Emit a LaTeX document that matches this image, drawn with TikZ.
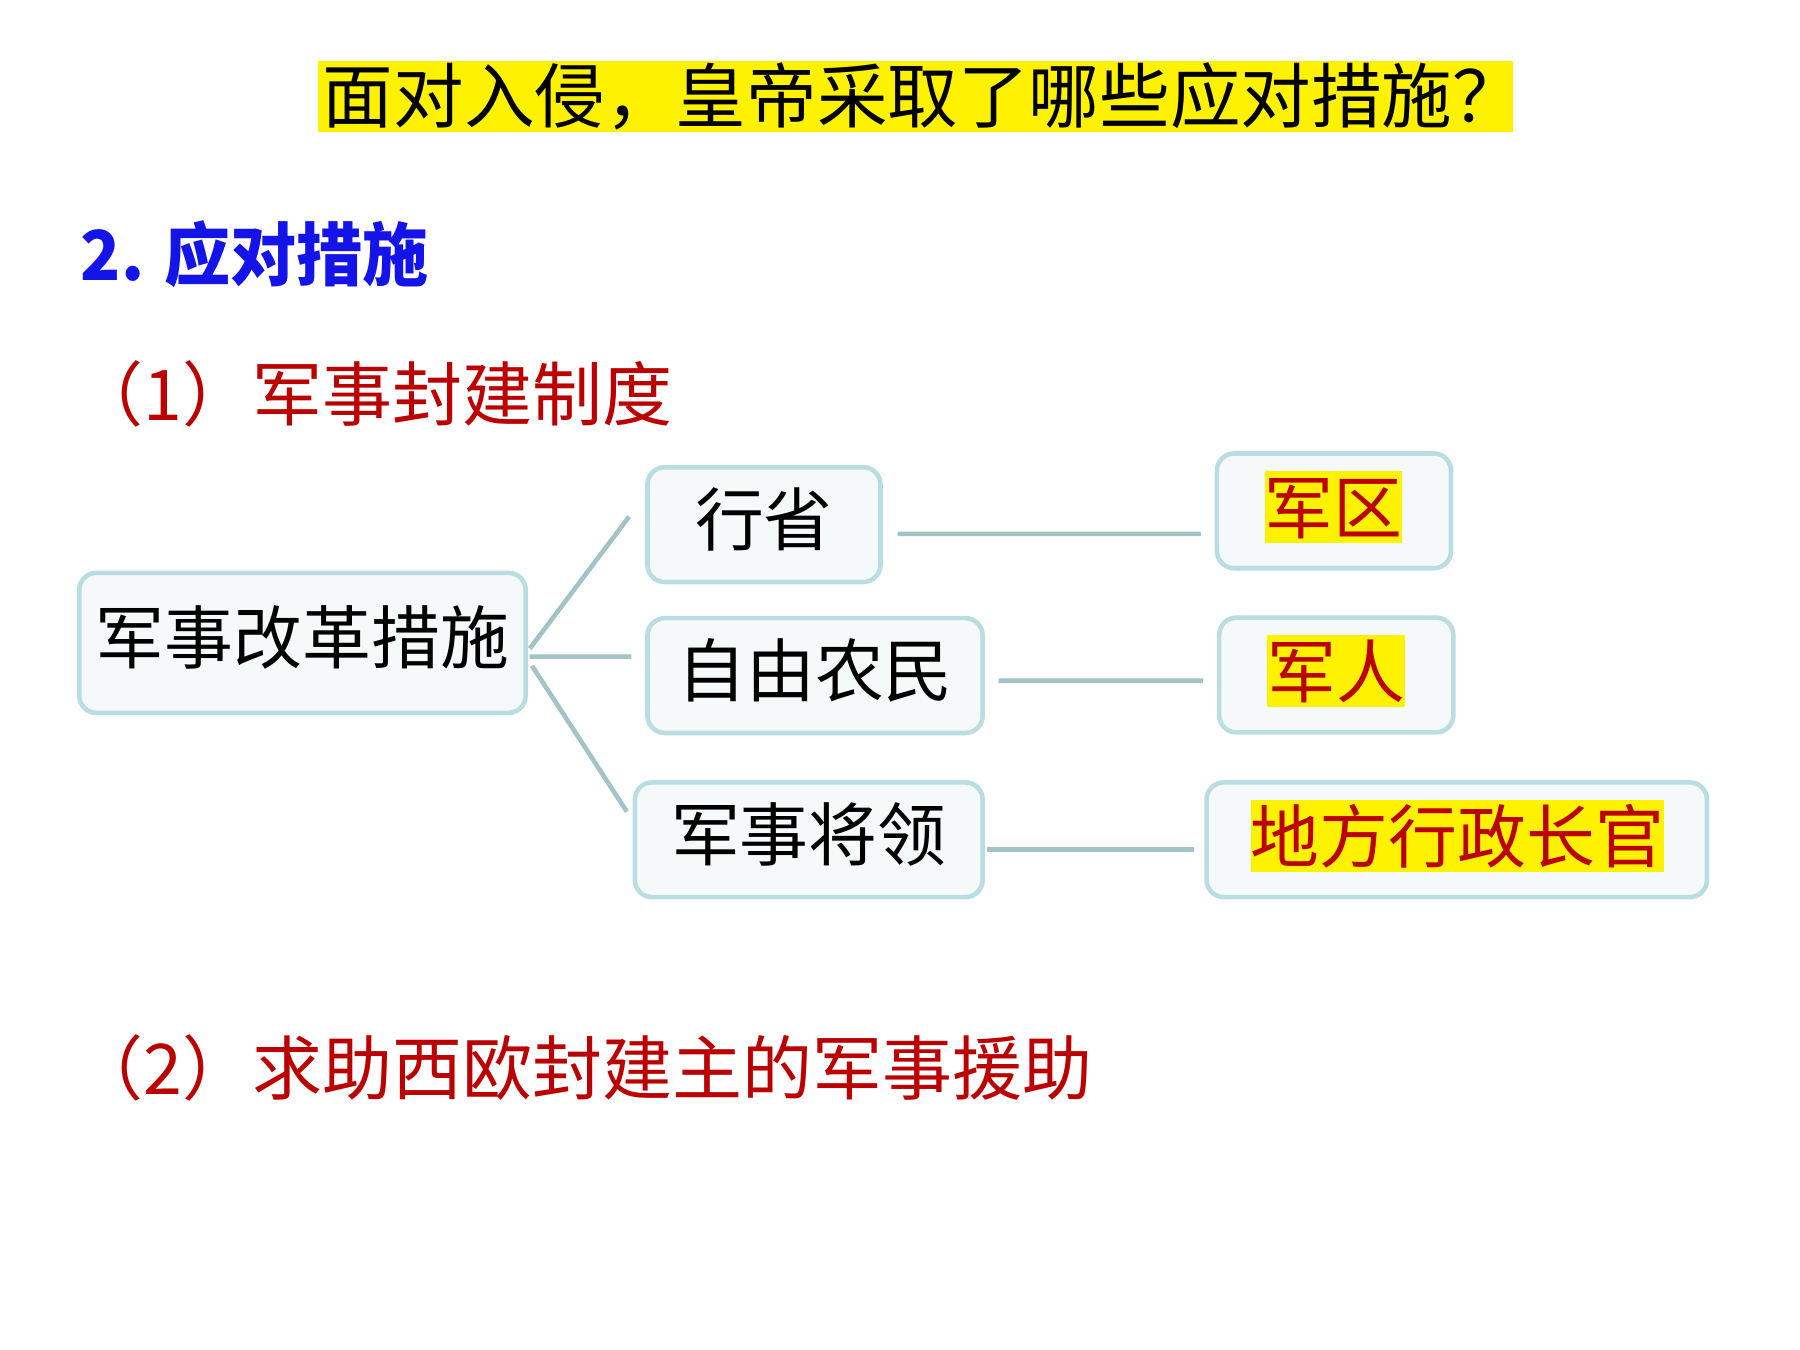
\documentclass[tikz,border=0pt]{standalone}
\usepackage{fontspec}
\newfontfamily\cjk{Noto Sans CJK SC}
\newfontfamily\cjkhead[FakeStretch=0.96]{Noto Sans CJK SC}
\definecolor{boxc}{RGB}{186,221,225}
\definecolor{boxf}{RGB}{245,249,250}
\definecolor{connc}{RGB}{163,196,199}
\definecolor{myred}{RGB}{186,0,0}
\definecolor{myblue}{RGB}{20,20,232}
\tikzset{
  txt/.style={inner sep=0pt, text height=1.09cm, text depth=0.17cm},
  bigfont/.style={font=\cjk\fontsize{34.14pt}{40pt}\selectfont},
  redfont/.style={font=\cjk\fontsize{34.7pt}{40pt}\selectfont, text=myred},
  box/.style={draw=boxc, line width=0.08cm, fill=boxf, rounded corners=0.3cm,
    inner sep=0pt, text height=0.99cm, text depth=0.27cm, bigfont, text=black},
  conn/.style={draw=connc, line width=0.08cm},
  hl/.style={txt, bigfont, fill=yellow, text=myred},
}
\begin{document}
\begin{tikzpicture}[x=0.02cm, y=-0.02cm]
\useasboundingbox (0,0) rectangle (1568,1176);
\fill[white] (0,0) rectangle (1568,1176);

% title
\node[fill=yellow, minimum width=20.82cm, minimum height=1.24cm, inner sep=0pt] (tbg) at (797.5,84) {};
\node[txt, anchor=west, font=\cjk\fontsize{35pt}{40pt}\selectfont] (title) at (281,84) {面对入侵，皇帝采取了哪些应对措施？};

% headings
\node[txt, anchor=west, font=\cjkhead\bfseries\fontsize{34.14pt}{40pt}\selectfont, text=myblue] (h2) at (70,221) {2. 应对措施};
\node[txt, anchor=west, redfont] (h21) at (64,343) {（1）军事封建制度};
\node[txt, anchor=west, redfont] (h22) at (64,930) {（2）求助西欧封建主的军事援助};

% boxes
\node[box, minimum width=7.78cm, minimum height=2.44cm] (m) at (263.5,560) {军事改革措施};
\node[box, minimum width=4.06cm, minimum height=2.0cm] (a1) at (665.5,457) {行省};
\node[box, minimum width=5.84cm, minimum height=2.0cm] (a2) at (710,588.5) {自由农民};
\node[box, minimum width=6.06cm, minimum height=2.0cm] (a3) at (704.5,731.5) {军事将领};
\node[box, minimum width=4.08cm, minimum height=2.0cm] (b1) at (1162,445) {};
\node[box, minimum width=4.08cm, minimum height=2.0cm] (b2) at (1164,588) {};
\node[box, minimum width=8.72cm, minimum height=2.0cm] (b3) at (1269,731.5) {};
\node[hl] (b1t) at (1161.5,441.5) {军区};
\node[hl] (b2t) at (1164,584.5) {军人};
\node[hl] (b3t) at (1269.5,728.5) {地方行政长官};

% connectors
\draw[conn] ([xshift=0.03cm,yshift=-0.1cm]m.east) -- ([xshift=-0.28cm,yshift=0.14cm]a1.west);
\draw[conn] ([xshift=0.03cm,yshift=-0.24cm]m.east) -- ([xshift=-0.24cm,yshift=0.33cm]a2.west);
\draw[conn] ([xshift=0.07cm,yshift=-0.4cm]m.east) -- ([xshift=-0.1cm,yshift=0.49cm]a3.west);
\draw[conn] ([xshift=0.26cm,yshift=-0.16cm]a1.east) -- ([xshift=-0.24cm,yshift=-0.4cm]b1.west);
\draw[conn] ([xshift=0.24cm,yshift=-0.09cm]a2.east) -- ([xshift=-0.24cm,yshift=-0.1cm]b2.west);
\draw[conn] ([xshift=0.04cm,yshift=-0.17cm]a3.east) -- ([xshift=-0.18cm,yshift=-0.17cm]b3.west);
\end{tikzpicture}
\end{document}
